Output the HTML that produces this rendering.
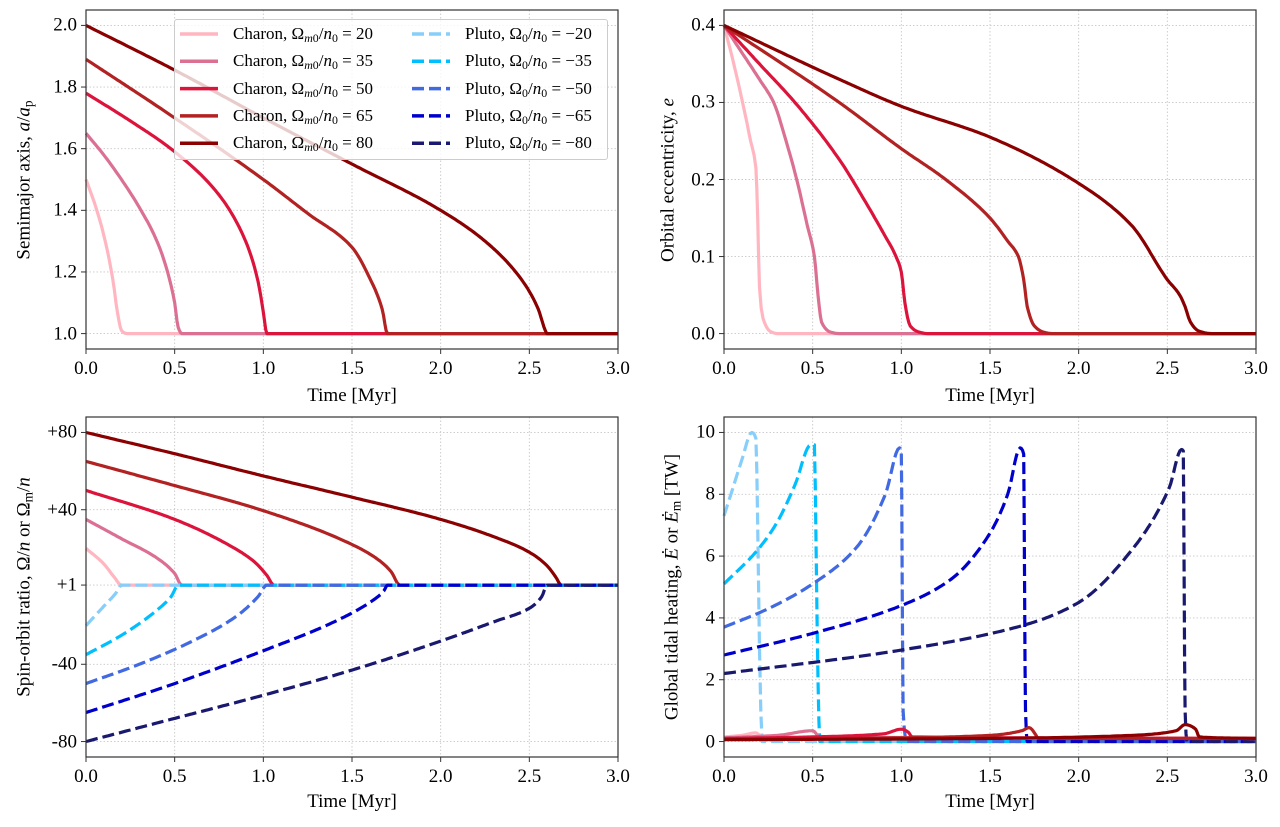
<!DOCTYPE html>
<html><head><meta charset="utf-8">
<style>
html,body{margin:0;padding:0;background:#fff;}
#wrap{position:relative;width:1280px;height:827px;overflow:hidden;font-family:"Liberation Serif","DejaVu Serif",serif;color:#000;}
svg{position:absolute;left:0;top:0;}
.lbl{position:absolute;white-space:nowrap;font-size:19px;line-height:1;}
.tick{position:absolute;white-space:nowrap;font-size:19px;line-height:1;}
.rot{position:absolute;white-space:nowrap;font-size:19px;line-height:1;transform:translate(-50%,-50%) rotate(-90deg);}
.leg{position:absolute;left:174px;top:19px;width:434px;height:141px;border:1px solid #ccc;border-radius:3px;background:rgba(255,255,255,0.8);box-sizing:border-box;}
.lt{position:absolute;font-size:17px;white-space:nowrap;line-height:1;}
sub{font-size:70%;vertical-align:-3px;line-height:0;}
</style></head>
<body>
<div id="wrap">
<svg id="chart" width="1280" height="827"></svg>
</div>
<script>
// ---- data: time [Myr] and values ----
const timeTicks = [0, 0.5, 1.0, 1.5, 2.0, 2.5, 3.0];
const timeTickLabels = ["0.0","0.5","1.0","1.5","2.0","2.5","3.0"];
const charonLabels = ["20","35","50","65","80"];
const plutoLabels = ["\u221220","\u221235","\u221250","\u221265","\u221280"];
const charonColors = ["#ffb6c1","#db7093","#dc143c","#b22222","#8b0000"];
const plutoColors = ["#87cefa","#00bfff","#4169e1","#0000cd","#191970"];

// Semimajor axis a/ap
const aC20 = [[0,1.5],[0.05,1.42],[0.1,1.32],[0.15,1.18],[0.18,1.06],[0.2,1.01],[0.23,1.0],[3,1.0]];
const aC35 = [[0,1.65],[0.1,1.58],[0.2,1.5],[0.3,1.41],[0.4,1.3],[0.46,1.2],[0.5,1.1],[0.52,1.02],[0.54,1.0],[3,1.0]];
const aC50 = [[0,1.78],[0.25,1.69],[0.5,1.59],[0.75,1.45],[0.9,1.3],[0.97,1.17],[1.0,1.07],[1.02,1.0],[3,1.0]];
const aC65 = [[0,1.89],[0.5,1.7],[1.0,1.5],[1.25,1.39],[1.5,1.28],[1.6,1.18],[1.67,1.08],[1.7,1.0],[3,1.0]];
const aC80 = [[0,2.0],[0.5,1.855],[1.0,1.7],[1.5,1.55],[2.0,1.4],[2.25,1.3],[2.45,1.18],[2.55,1.08],[2.59,1.01],[2.6,1.0],[3,1.0]];
const aTicks = [1.0,1.2,1.4,1.6,1.8,2.0];
const aTickLabels = ["1.0","1.2","1.4","1.6","1.8","2.0"];

// Eccentricity
const eC20 = [[0,0.4],[0.05,0.355],[0.1,0.305],[0.15,0.25],[0.18,0.215],[0.19,0.15],[0.2,0.06],[0.22,0.02],[0.26,0.003],[0.3,0],[3,0]];
const eC35 = [[0,0.4],[0.1,0.365],[0.2,0.33],[0.28,0.3],[0.35,0.25],[0.41,0.2],[0.47,0.14],[0.51,0.1],[0.53,0.05],[0.55,0.015],[0.6,0.002],[0.65,0],[3,0]];
const eC50 = [[0,0.4],[0.2,0.35],[0.4,0.3],[0.65,0.226],[0.8,0.17],[0.9,0.13],[0.97,0.1],[1.0,0.08],[1.02,0.04],[1.05,0.01],[1.1,0.002],[1.15,0],[3,0]];
const eC65 = [[0,0.4],[0.65,0.3],[1.0,0.24],[1.25,0.2],[1.5,0.15],[1.6,0.12],[1.66,0.1],[1.69,0.07],[1.71,0.035],[1.75,0.01],[1.8,0.002],[1.85,0],[3,0]];
const eC80 = [[0,0.4],[0.65,0.33],[1.0,0.295],[1.5,0.255],[2.0,0.195],[2.3,0.14],[2.5,0.07],[2.57,0.05],[2.6,0.035],[2.63,0.015],[2.68,0.003],[2.75,0],[3,0]];
const eTicks = [0,0.1,0.2,0.3,0.4];
const eTickLabels = ["0.0","0.1","0.2","0.3","0.4"];

// Spin-orbit ratio
const sC20 = [[0,20],[0.1,12],[0.16,5],[0.2,1],[3,1]];
const sC35 = [[0,35],[0.2,25],[0.4,15],[0.5,7],[0.54,1],[3,1]];
const sC50 = [[0,50],[0.5,35],[0.8,22],[0.95,13],[1.02,6],[1.06,1],[3,1]];
const sC65 = [[0,65],[0.5,52.5],[1.0,39.5],[1.5,22],[1.65,14],[1.72,8],[1.77,1],[3,1]];
const sC80 = [[0,80],[0.5,69],[1.0,57.5],[1.5,46.5],[2.0,35],[2.3,26],[2.5,18],[2.6,11],[2.65,5],[2.68,1],[3,1]];
const sP20 = [[0,-20],[0.1,-10],[0.17,-3],[0.2,1],[3,1]];
const sP35 = [[0,-35],[0.2,-25],[0.4,-12],[0.48,-5],[0.52,1],[3,1]];
const sP50 = [[0,-50],[0.3,-40],[0.6,-28],[0.85,-15],[0.97,-5],[1.02,1],[3,1]];
const sP65 = [[0,-65],[0.5,-50],[1.0,-33],[1.4,-18],[1.6,-8],[1.68,-2],[1.7,1],[3,1]];
const sP80 = [[0,-80],[0.5,-68],[1.0,-56],[1.5,-43],[2.0,-28],[2.3,-18],[2.5,-11],[2.57,-5],[2.6,1],[3,1]];
const sTicks = [80,40,1,-40,-80];
const sTickLabels = ["+80","+40","+1","-40","-80"];

// Tidal heating [TW]
const hC20 = [[0,0.15],[0.1,0.2],[0.18,0.28],[0.22,0.12],[3,0.1]];
const hC35 = [[0,0.12],[0.3,0.2],[0.5,0.35],[0.54,0.15],[3,0.1]];
const hC50 = [[0,0.1],[0.5,0.15],[0.9,0.25],[1.0,0.4],[1.04,0.3],[1.06,0.15],[3,0.1]];
const hC65 = [[0,0.08],[1.0,0.12],[1.5,0.2],[1.68,0.35],[1.72,0.45],[1.76,0.2],[1.77,0.1],[3,0.1]];
const hC80 = [[0,0.06],[1.5,0.1],[2.3,0.2],[2.55,0.35],[2.6,0.55],[2.66,0.4],[2.68,0.15],[3,0.1]];
const hP20 = [[0,7.3],[0.05,8.2],[0.1,9.1],[0.157,10.0],[0.18,9.8],[0.19,7.0],[0.2,3.0],[0.215,0],[3,0]];
const hP35 = [[0,5.1],[0.19,6.2],[0.3,7.1],[0.4,8.3],[0.49,9.6],[0.51,9.6],[0.52,6],[0.53,2],[0.54,0],[3,0]];
const hP50 = [[0,3.7],[0.25,4.3],[0.5,5.1],[0.75,6.3],[0.91,8.0],[0.99,9.5],[1.0,9.4],[1.005,5],[1.01,1],[1.03,0],[3,0]];
const hP65 = [[0,2.8],[0.5,3.5],[1.0,4.4],[1.28,5.25],[1.49,6.65],[1.6,8.0],[1.67,9.5],[1.69,9.3],[1.695,5],[1.7,1],[1.71,0],[3,0]];
const hP80 = [[0,2.2],[1.0,2.96],[1.7,3.78],[2.0,4.5],[2.3,6.2],[2.51,8.2],[2.58,9.45],[2.59,9.4],[2.595,5],[2.6,1],[2.61,0],[3,0]];
const hTicks = [0,2,4,6,8,10];
const hTickLabels = ["0","2","4","6","8","10"];

const NS = "http://www.w3.org/2000/svg";
const svg = document.getElementById('chart');
const wrap = document.getElementById('wrap');

function makeAxes(px0,px1,py0,py1,ymin,ymax){
  return {px0,px1,py0,py1,
    sx: t => px0 + (t-0)/(3-0)*(px1-px0),
    sy: v => py1 - (v-ymin)/(ymax-ymin)*(py1-py0)};
}
const axTL = makeAxes(86,618,10,349,0.95,2.05);
const axTR = makeAxes(724,1256,10,349,-0.02,0.42);
const axBL = makeAxes(86,618,417,757,-88,88);
const axBR = makeAxes(724,1256,417,757,-0.5,10.5);

function el(tag, attrs, parent){
  const e = document.createElementNS(NS, tag);
  for (const k in attrs) e.setAttribute(k, attrs[k]);
  (parent||svg).appendChild(e);
  return e;
}
function htmlText(cls, html, left, top, name){
  const d = document.createElement('div');
  d.className = cls;
  d.innerHTML = html;
  d.style.left = left + 'px';
  d.style.top = top + 'px';
  
  
  wrap.appendChild(d);
  return d;
}

function drawFrame(ax, yTicks, yLabels, prefix){
  timeTicks.forEach((t,i)=>{
    const g = el('line',{x1:ax.sx(t),x2:ax.sx(t),y1:ax.py0,y2:ax.py1,stroke:'#c8c8c8','stroke-width':0.9,'stroke-dasharray':'1.5,2'});
    
    
    const tk = el('line',{x1:ax.sx(t),x2:ax.sx(t),y1:ax.py1,y2:ax.py1+5,stroke:'#333','stroke-width':1});
    
    
    const lab = htmlText('tick', timeTickLabels[i], ax.sx(t), ax.py1+10, prefix+'-x-tick-label');
    lab.style.transform = 'translateX(-50%)';
  });
  yTicks.forEach((v,i)=>{
    const g = el('line',{x1:ax.px0,x2:ax.px1,y1:ax.sy(v),y2:ax.sy(v),stroke:'#c8c8c8','stroke-width':0.9,'stroke-dasharray':'1.5,2'});
    
    
    const tk = el('line',{x1:ax.px0-5,x2:ax.px0,y1:ax.sy(v),y2:ax.sy(v),stroke:'#333','stroke-width':1});
    
    
    const lab = htmlText('tick', yLabels[i], ax.px0-9, ax.sy(v), prefix+'-y-tick-label');
    lab.style.transform = 'translate(-100%,-50%)';
  });
}
function drawBorder(ax, prefix){
  const r = el('rect',{x:ax.px0,y:ax.py0,width:ax.px1-ax.px0,height:ax.py1-ax.py0,fill:'none',stroke:'#333','stroke-width':1.2});
  
  
}
// monotone cubic (Fritsch-Carlson) interpolation in t for smooth rendering
function smooth(data){
  const n = data.length;
  if (n < 3) return data;
  const x = data.map(p=>p[0]), y = data.map(p=>p[1]);
  const d = [], m = new Array(n);
  for (let i=0;i<n-1;i++) d.push((y[i+1]-y[i])/(x[i+1]-x[i]));
  m[0]=d[0]; m[n-1]=d[n-2];
  for (let i=1;i<n-1;i++){
    if (d[i-1]*d[i] <= 0) m[i]=0;
    else { const w1=2*(x[i+1]-x[i])+(x[i]-x[i-1]), w2=(x[i+1]-x[i])+2*(x[i]-x[i-1]);
      m[i]=(w1+w2)/(w1/d[i-1]+w2/d[i]); }
  }
  const out=[];
  for (let i=0;i<n-1;i++){
    const h=x[i+1]-x[i], steps=Math.max(2,Math.min(40,Math.ceil(h/0.01)));
    for (let k=0;k<steps;k++){
      const s=k/steps, s2=s*s, s3=s2*s;
      const v=(2*s3-3*s2+1)*y[i]+(s3-2*s2+s)*h*m[i]+(-2*s3+3*s2)*y[i+1]+(s3-s2)*h*m[i+1];
      out.push([x[i]+s*h, v]);
    }
  }
  out.push(data[n-1]);
  return out;
}
function line(ax, data, color, dashed, name){
  const pts = smooth(data).map(p => ax.sx(p[0]).toFixed(1)+','+ax.sy(p[1]).toFixed(1)).join(' ');
  const attrs = {points:pts,fill:'none',stroke:color,'stroke-width':3.2,'stroke-linejoin':'round'};
  if (dashed) attrs['stroke-dasharray'] = '12,5';
  const p = el('polyline', attrs);
  
  
}

const aSeries=[aC20,aC35,aC50,aC65,aC80];
const eSeries=[eC20,eC35,eC50,eC65,eC80];
const sCSeries=[sC20,sC35,sC50,sC65,sC80];
const sPSeries=[sP20,sP35,sP50,sP65,sP80];
const hCSeries=[hC20,hC35,hC50,hC65,hC80];
const hPSeries=[hP20,hP35,hP50,hP65,hP80];

drawFrame(axTL, aTicks, aTickLabels, 'semimajor');
aSeries.forEach((d,i)=>line(axTL,d,charonColors[i],false,'semimajor-charon-'+charonLabels[i]));
drawBorder(axTL,'semimajor');
drawFrame(axTR, eTicks, eTickLabels, 'eccentricity');
eSeries.forEach((d,i)=>line(axTR,d,charonColors[i],false,'eccentricity-charon-'+charonLabels[i]));
drawBorder(axTR,'eccentricity');
drawFrame(axBL, sTicks, sTickLabels, 'spin');
sCSeries.forEach((d,i)=>line(axBL,d,charonColors[i],false,'spin-charon-'+charonLabels[i]));
sPSeries.forEach((d,i)=>line(axBL,d,plutoColors[i],true,'spin-pluto-'+charonLabels[i]));
drawBorder(axBL,'spin');
drawFrame(axBR, hTicks, hTickLabels, 'heating');
hPSeries.forEach((d,i)=>line(axBR,d,plutoColors[i],true,'heating-pluto-'+charonLabels[i]));
hCSeries.forEach((d,i)=>line(axBR,d,charonColors[i],false,'heating-charon-'+charonLabels[i]));
drawBorder(axBR,'heating');

let d;
d = htmlText('lbl','Time [Myr]',352,386,'semimajor-x-axis-title'); d.style.transform='translateX(-50%)';
d = htmlText('lbl','Time [Myr]',990,386,'eccentricity-x-axis-title'); d.style.transform='translateX(-50%)';
d = htmlText('lbl','Time [Myr]',352,792,'spin-x-axis-title'); d.style.transform='translateX(-50%)';
d = htmlText('lbl','Time [Myr]',990,792,'heating-x-axis-title'); d.style.transform='translateX(-50%)';
htmlText('rot','Semimajor axis, <i>a</i>/<i>a</i><sub>p</sub>',24,180,'semimajor-y-axis-title');
htmlText('rot','Orbital eccentricity, <i>e</i>',668,180,'eccentricity-y-axis-title');
htmlText('rot','Spin-orbit ratio, \u03A9/<i>n</i> or \u03A9<sub>m</sub>/<i>n</i>',24,587,'spin-y-axis-title');
htmlText('rot','Global tidal heating, <i>\u0116</i> or <i>\u0116</i><sub>m</sub> [TW]',672,587,'heating-y-axis-title');

const leg = document.createElement('div');
leg.className='leg';


wrap.appendChild(leg);
const legSvg = document.createElementNS(NS,'svg');
legSvg.setAttribute('width','434'); legSvg.setAttribute('height','141');
legSvg.style.left='-1px'; legSvg.style.top='-1px';
leg.appendChild(legSvg);
for (let i=0;i<5;i++){
  const y = 15 + i*27.3;
  const l1 = el('line',{x1:6,x2:44,y1:y,y2:y,stroke:charonColors[i],'stroke-width':3.5},legSvg);
  
  
  const l2 = el('line',{x1:238,x2:276,y1:y,y2:y,stroke:plutoColors[i],'stroke-width':3.5,'stroke-dasharray':'12,5'},legSvg);
  
  
  const t1 = document.createElement('div');
  t1.className='lt';
  t1.innerHTML='Charon, \u03A9<sub><i>m</i>0</sub>/<i>n</i><sub>0</sub> = '+charonLabels[i];
  t1.style.left='58px'; t1.style.top=(y-10)+'px';
  
  
  leg.appendChild(t1);
  const t2 = document.createElement('div');
  t2.className='lt';
  t2.innerHTML='Pluto, \u03A9<sub>0</sub>/<i>n</i><sub>0</sub> = '+plutoLabels[i];
  t2.style.left='290px'; t2.style.top=(y-10)+'px';
  
  
  leg.appendChild(t2);
}
</script>
</body></html>
